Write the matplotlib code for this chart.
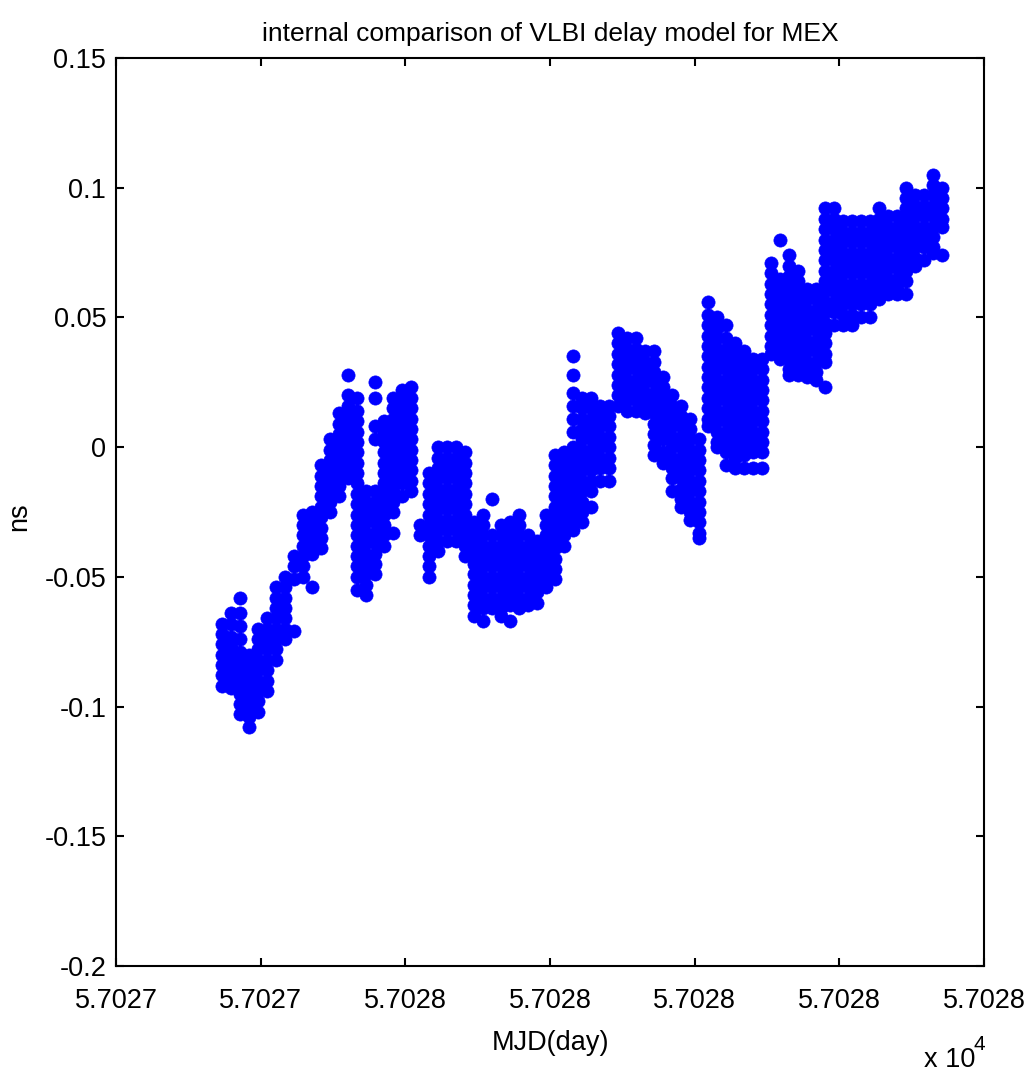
import matplotlib
matplotlib.use("Agg")
import matplotlib.pyplot as plt

plt.rcParams['font.family'] = ['Liberation Sans Narrow', 'Liberation Sans', 'DejaVu Sans']

# === Data: MJD = 57027 + day fraction, delay difference in ns ===
mjd0 = 57027.0
t_cols = [0.3466, 0.3590, 0.3714, 0.3839, 0.3963, 0.4088, 0.4212, 0.4337, 0.4461, 0.4585,
          0.4710, 0.4834, 0.4959, 0.5083, 0.5208, 0.5332, 0.5456, 0.5581, 0.5705, 0.5830,
          0.5954, 0.6078, 0.6203, 0.6327, 0.6452, 0.6576, 0.6701, 0.6825, 0.6949, 0.7074,
          0.7198, 0.7323, 0.7447, 0.7572, 0.7696, 0.7820, 0.7945, 0.8069, 0.8194, 0.8318,
          0.8443, 0.8567, 0.8691, 0.8816, 0.8940, 0.9065, 0.9189, 0.9314, 0.9438, 0.9562,
          0.9687, 0.9811, 0.9936, 1.0060, 1.0185, 1.0309, 1.0433, 1.0558, 1.0682, 1.0807,
          1.0931, 1.1056, 1.1180, 1.1304, 1.1429, 1.1553, 1.1678, 1.1802, 1.1927, 1.2051,
          1.2175, 1.2300, 1.2424, 1.2549, 1.2673, 1.2798, 1.2922, 1.3047, 1.3171, 1.3295,
          1.3420]

ns_cols = [
    [-0.068, -0.072, -0.076, -0.080, -0.084, -0.088, -0.092],
    [-0.064, -0.068, -0.073, -0.077, -0.081, -0.085, -0.089, -0.093],
    [-0.058, -0.064, -0.069, -0.074, -0.079, -0.083, -0.087, -0.091, -0.095, -0.099, -0.103],
    [-0.080, -0.084, -0.088, -0.092, -0.096, -0.100, -0.104, -0.108],
    [-0.070, -0.074, -0.078, -0.082, -0.086, -0.090, -0.094, -0.098, -0.102],
    [-0.066, -0.070, -0.074, -0.078, -0.082, -0.086, -0.090, -0.094],
    [-0.054, -0.058, -0.062, -0.066, -0.070, -0.074, -0.078, -0.082],
    [-0.050, -0.054, -0.058, -0.062, -0.066, -0.070, -0.074],
    [-0.042, -0.046, -0.051, -0.071],
    [-0.026, -0.030, -0.034, -0.038, -0.042, -0.046, -0.050],
    [-0.025, -0.029, -0.033, -0.037, -0.041, -0.054],
    [-0.007, -0.011, -0.015, -0.019, -0.023, -0.027, -0.031, -0.035, -0.039],
    [0.003, -0.001, -0.005, -0.009, -0.013, -0.017, -0.021, -0.025],
    [0.013, 0.009, 0.005, 0.001, -0.003, -0.007, -0.011, -0.015, -0.019],
    [0.028, 0.020, 0.016, 0.012, 0.008, 0.004, 0.000, -0.004, -0.008, -0.012],
    [0.019, 0.014, 0.010, 0.006, 0.002, -0.002, -0.006, -0.010, -0.014, -0.018, -0.022,
     -0.026, -0.030, -0.034, -0.038, -0.042, -0.046, -0.050, -0.055],
    [-0.017, -0.021, -0.025, -0.029, -0.033, -0.037, -0.041, -0.045, -0.049, -0.053, -0.057],
    [0.025, 0.019, 0.008, 0.003, -0.017, -0.021, -0.025, -0.029, -0.033, -0.037, -0.041,
     -0.045, -0.049],
    [0.010, 0.006, 0.002, -0.002, -0.006, -0.010, -0.014, -0.018, -0.022, -0.026, -0.030,
     -0.034, -0.038],
    [0.019, 0.015, 0.011, 0.007, 0.003, -0.001, -0.005, -0.009, -0.013, -0.017, -0.021,
     -0.025, -0.033],
    [0.022, 0.018, 0.014, 0.010, 0.006, 0.002, -0.002, -0.006, -0.010, -0.014, -0.019],
    [0.023, 0.019, 0.015, 0.011, 0.007, 0.003, -0.001, -0.005, -0.009, -0.013, -0.017],
    [-0.030, -0.034],
    [-0.010, -0.014, -0.018, -0.022, -0.026, -0.030, -0.034, -0.038, -0.042, -0.046, -0.050],
    [0.000, -0.004, -0.008, -0.012, -0.016, -0.020, -0.024, -0.028, -0.032, -0.036, -0.040],
    [0.000, -0.004, -0.008, -0.012, -0.016, -0.020, -0.024, -0.028, -0.032, -0.036],
    [0.000, -0.004, -0.008, -0.012, -0.016, -0.020, -0.024, -0.028, -0.032, -0.036],
    [-0.002, -0.006, -0.010, -0.014, -0.018, -0.022, -0.026, -0.030, -0.034, -0.038, -0.042],
    [-0.029, -0.033, -0.037, -0.041, -0.045, -0.049, -0.053, -0.057, -0.061, -0.065],
    [-0.026, -0.030, -0.034, -0.038, -0.042, -0.046, -0.050, -0.054, -0.058, -0.062, -0.067],
    [-0.020, -0.034, -0.038, -0.042, -0.046, -0.050, -0.054, -0.058, -0.062],
    [-0.030, -0.034, -0.038, -0.042, -0.046, -0.050, -0.054, -0.058, -0.062, -0.065],
    [-0.029, -0.033, -0.037, -0.041, -0.045, -0.049, -0.053, -0.057, -0.061, -0.067],
    [-0.026, -0.030, -0.034, -0.038, -0.042, -0.046, -0.050, -0.054, -0.058, -0.062],
    [-0.034, -0.038, -0.042, -0.046, -0.050, -0.054, -0.058, -0.061],
    [-0.036, -0.040, -0.044, -0.048, -0.052, -0.056, -0.060],
    [-0.026, -0.030, -0.034, -0.038, -0.042, -0.046, -0.050, -0.054],
    [-0.003, -0.007, -0.011, -0.015, -0.019, -0.023, -0.027, -0.031, -0.035, -0.039, -0.043,
     -0.047, -0.051],
    [-0.002, -0.006, -0.010, -0.014, -0.018, -0.022, -0.026, -0.030, -0.034, -0.038],
    [0.035, 0.028, 0.021, 0.016, 0.011, 0.006, 0.000, -0.004, -0.008, -0.012, -0.016,
     -0.020, -0.024, -0.028, -0.032],
    [0.019, 0.015, 0.011, 0.007, 0.003, -0.001, -0.005, -0.009, -0.013, -0.017, -0.021,
     -0.025, -0.029],
    [0.019, 0.015, 0.011, 0.007, 0.003, -0.001, -0.005, -0.009, -0.013, -0.017, -0.023],
    [0.016, 0.012, 0.008, 0.004, 0.000, -0.004, -0.008, -0.013],
    [0.016, 0.012, 0.008, 0.004, 0.000, -0.004, -0.008, -0.013],
    [0.044, 0.040, 0.036, 0.032, 0.028, 0.024, 0.020, 0.016],
    [0.042, 0.038, 0.034, 0.030, 0.026, 0.022, 0.018, 0.014],
    [0.042, 0.038, 0.034, 0.030, 0.026, 0.022, 0.018, 0.014],
    [0.037, 0.033, 0.029, 0.025, 0.021, 0.017, 0.013],
    [0.037, 0.033, 0.029, 0.025, 0.021, 0.017, 0.013, 0.009, 0.005, 0.001, -0.003],
    [0.027, 0.023, 0.019, 0.015, 0.011, 0.007, 0.003, -0.002, -0.006],
    [0.020, 0.016, 0.012, 0.008, 0.004, 0.000, -0.004, -0.008, -0.012, -0.017],
    [0.016, 0.012, 0.008, 0.004, 0.000, -0.004, -0.008, -0.012, -0.016, -0.020, -0.023],
    [0.011, 0.007, 0.003, -0.001, -0.005, -0.009, -0.013, -0.017, -0.021, -0.025, -0.028],
    [0.003, -0.001, -0.005, -0.009, -0.013, -0.017, -0.021, -0.025, -0.029, -0.033, -0.035],
    [0.056, 0.051, 0.047, 0.043, 0.039, 0.035, 0.031, 0.027, 0.023, 0.019, 0.015, 0.011, 0.008],
    [0.050, 0.046, 0.042, 0.038, 0.034, 0.030, 0.026, 0.022, 0.018, 0.014, 0.010, 0.006,
     0.002, 0.000],
    [0.047, 0.042, 0.038, 0.034, 0.030, 0.026, 0.022, 0.018, 0.014, 0.010, 0.006, 0.002,
     -0.002, -0.007],
    [0.040, 0.036, 0.032, 0.028, 0.024, 0.020, 0.016, 0.012, 0.008, 0.004, 0.000, -0.004, -0.008],
    [0.037, 0.033, 0.029, 0.025, 0.021, 0.017, 0.013, 0.009, 0.005, 0.001, -0.003, -0.008],
    [0.034, 0.030, 0.026, 0.022, 0.018, 0.014, 0.010, 0.006, 0.002, -0.002, -0.008],
    [0.034, 0.030, 0.026, 0.022, 0.018, 0.014, 0.010, 0.006, 0.002, -0.002, -0.008],
    [0.071, 0.067, 0.063, 0.059, 0.055, 0.051, 0.047, 0.043, 0.039, 0.036],
    [0.080, 0.065, 0.061, 0.057, 0.053, 0.049, 0.045, 0.041, 0.037, 0.034],
    [0.074, 0.070, 0.066, 0.062, 0.058, 0.054, 0.050, 0.046, 0.042, 0.038, 0.034, 0.030, 0.028],
    [0.068, 0.064, 0.060, 0.056, 0.052, 0.048, 0.044, 0.040, 0.036, 0.032, 0.028],
    [0.061, 0.057, 0.053, 0.049, 0.045, 0.041, 0.037, 0.033, 0.029, 0.027],
    [0.061, 0.057, 0.053, 0.049, 0.045, 0.041, 0.037, 0.033, 0.029, 0.026],
    [0.092, 0.088, 0.084, 0.080, 0.076, 0.072, 0.068, 0.064, 0.060, 0.056, 0.052, 0.048,
     0.044, 0.040, 0.036, 0.033, 0.023],
    [0.092, 0.088, 0.084, 0.080, 0.076, 0.072, 0.068, 0.064, 0.060, 0.056, 0.052, 0.047],
    [0.087, 0.083, 0.079, 0.075, 0.071, 0.067, 0.063, 0.059, 0.055, 0.051, 0.047],
    [0.087, 0.083, 0.079, 0.075, 0.071, 0.067, 0.063, 0.059, 0.055, 0.051, 0.047],
    [0.087, 0.083, 0.079, 0.075, 0.071, 0.067, 0.063, 0.059, 0.055, 0.050],
    [0.087, 0.083, 0.079, 0.075, 0.071, 0.067, 0.063, 0.059, 0.055, 0.050],
    [0.092, 0.088, 0.084, 0.080, 0.076, 0.072, 0.068, 0.064, 0.060, 0.057],
    [0.089, 0.085, 0.081, 0.077, 0.073, 0.069, 0.065, 0.061, 0.059],
    [0.089, 0.085, 0.081, 0.077, 0.073, 0.069, 0.065, 0.061, 0.059],
    [0.100, 0.096, 0.092, 0.088, 0.084, 0.080, 0.076, 0.072, 0.068, 0.064, 0.059],
    [0.097, 0.093, 0.089, 0.085, 0.081, 0.077, 0.073, 0.070],
    [0.097, 0.093, 0.089, 0.085, 0.081, 0.077, 0.072],
    [0.105, 0.101, 0.097, 0.093, 0.089, 0.085, 0.081, 0.077, 0.075],
    [0.100, 0.096, 0.092, 0.088, 0.085, 0.074],
]

x_ticks = [57027.2, 57027.4, 57027.6, 57027.8, 57028.0, 57028.2, 57028.4]
y_ticks = [-0.2, -0.15, -0.1, -0.05, 0, 0.05, 0.1, 0.15]
y_ticklabels = ['-0.2', '-0.15', '-0.1', '-0.05', '0', '0.05', '0.1', '0.15']

# flatten columns into one series
mjd = []
delay = []
for t, col in zip(t_cols, ns_cols):
    for v in col:
        mjd.append(mjd0 + t)
        delay.append(v)

fig = plt.figure(figsize=(10.28, 10.71), dpi=100)
ax = fig.add_axes([116 / 1028, 1 - 966 / 1071, 868 / 1028, 908 / 1071])

ax.plot(mjd, delay, 'o', color='#0000ff', markersize=9.5,
        markeredgewidth=0.5, markeredgecolor='#0000ff')

ax.set_xlim(x_ticks[0], x_ticks[-1])
ax.set_ylim(-0.2, 0.15)
ax.set_xticks(x_ticks)
ax.set_xticklabels(['%.4f' % (v / 1e4) for v in x_ticks])
ax.set_yticks(y_ticks)
ax.set_yticklabels(y_ticklabels)

ax.tick_params(direction='in', top=True, right=True, length=6, width=1.5,
               labelsize=19.5, colors='black')
ax.tick_params(axis='x', pad=16)
ax.tick_params(axis='y', pad=7)
for s in ax.spines.values():
    s.set_linewidth(1.5)

ax.set_title('internal comparison of VLBI delay model for MEX', fontsize=19, pad=12)
ax.set_xlabel('MJD(day)', fontsize=19.5)
ax.xaxis.set_label_coords(0.5, -0.071)
ax.set_ylabel('ns', fontsize=19.5)
ax.yaxis.set_label_coords(-0.097, 0.4945)

# exponent of the x axis, MATLAB style
fig.text(924 / 1028, 1 - 1067 / 1071, 'x 10', fontsize=19.5, ha='left', va='baseline')
fig.text(974 / 1028, 1 - 1050 / 1071, '4', fontsize=15, ha='left', va='baseline')

fig.savefig('out.png', dpi=100)
